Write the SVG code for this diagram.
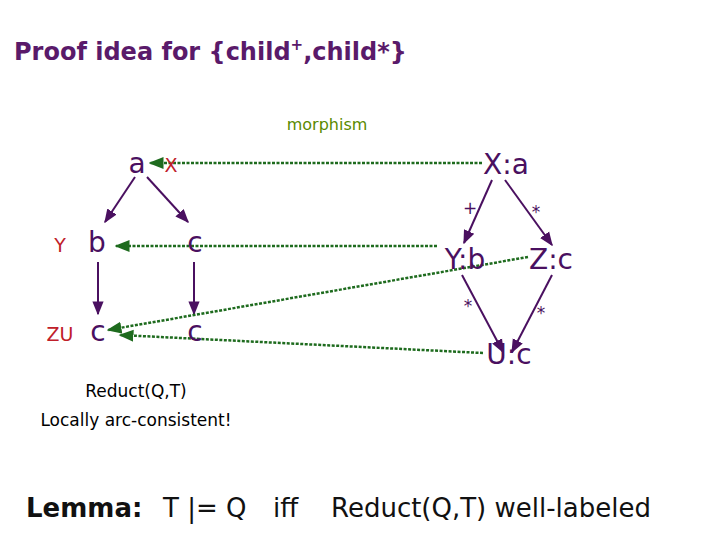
<svg xmlns="http://www.w3.org/2000/svg" width="720" height="540" viewBox="0 0 720 540">
<defs>
<marker id="ap" viewBox="0 0 10 10" refX="9" refY="5" markerWidth="7" markerHeight="7" orient="auto"><path d="M0,1 L10,5 L0,9 z" fill="#4a1060"/></marker>
<marker id="ag" viewBox="0 0 10 10" refX="9" refY="5" markerWidth="6" markerHeight="6" orient="auto"><path d="M0,1 L10,5 L0,9 z" fill="#1e6b1e"/></marker>
</defs>
<style>
text{font-family:"DejaVu Sans",Verdana,sans-serif}
.n{fill:#4a1060;font-size:28px}
.r{fill:#c0202a;font-size:19px}
.s{fill:#4a1060;font-size:17px}
.e{stroke:#4a1060;stroke-width:2;fill:none;marker-end:url(#ap)}
.m{stroke:#1e6b1e;stroke-width:2.5;stroke-dasharray:3,1.5;fill:none;marker-end:url(#ag)}
.b{fill:#000;font-size:17px}
</style>
<text x="14" y="60" fill="#5a1a6a" font-size="24" font-weight="bold">Proof idea for {child<tspan font-size="15" dy="-10">+</tspan><tspan dy="10">,child*}</tspan></text>
<text x="327" y="130" fill="#5a8a00" font-size="16" text-anchor="middle">morphism</text>
<g id="connectors">
<line class="e" x1="135" y1="177" x2="105" y2="222"/>
<line class="e" x1="147" y1="177" x2="188" y2="222"/>
<line class="e" x1="98" y1="262" x2="98" y2="314"/>
<line class="e" x1="194" y1="262" x2="194" y2="314"/>
<line class="e" x1="492" y1="180" x2="464" y2="243"/>
<line class="e" x1="505" y1="180" x2="552" y2="245"/>
<line class="e" x1="462" y1="275" x2="503" y2="352"/>
<line class="e" x1="552" y1="275" x2="512" y2="352"/>
<line class="m" x1="482" y1="163" x2="150" y2="163"/>
<line class="m" x1="437" y1="246" x2="116" y2="246"/>
<line class="m" x1="528" y1="257" x2="108" y2="330"/>
<line class="m" x1="483" y1="353" x2="120" y2="335"/>
</g>
<g id="n_a"><text class="n" x="137" y="173" text-anchor="middle">a</text></g>
<g id="n_b"><text class="n" x="97" y="252" text-anchor="middle">b</text></g>
<g id="n_c1"><text class="n" x="195" y="252" text-anchor="middle">c</text></g>
<g id="n_c2"><text class="n" x="98" y="341" text-anchor="middle">c</text></g>
<g id="n_c3"><text class="n" x="195" y="341" text-anchor="middle">c</text></g>
<text class="r" x="171" y="172" text-anchor="middle">X</text>
<text class="r" x="60" y="252" text-anchor="middle">Y</text>
<text class="r" x="60" y="341" text-anchor="middle">ZU</text>
<g id="n_Xa"><text class="n" x="506" y="174" text-anchor="middle">X:a</text></g>
<g id="n_Yb"><text class="n" x="465" y="269" text-anchor="middle">Y:b</text></g>
<g id="n_Zc"><text class="n" x="551" y="269" text-anchor="middle">Z:c</text></g>
<g id="n_Uc"><text class="n" x="509" y="364" text-anchor="middle">U:c</text></g>
<text class="s" x="470" y="214" text-anchor="middle">+</text>
<text class="s" x="536" y="218" text-anchor="middle">*</text>
<text class="s" x="468" y="312" text-anchor="middle">*</text>
<text class="s" x="541" y="319" text-anchor="middle">*</text>
<text class="b" x="136" y="397" text-anchor="middle">Reduct(Q,T)</text>
<text class="b" x="136" y="426" text-anchor="middle">Locally arc-consistent!</text>
<text x="26" y="517" font-size="26" fill="#111"><tspan font-weight="bold">Lemma:</tspan></text>
<text x="163" y="517" font-size="26" fill="#111">T |= Q</text>
<text x="273" y="517" font-size="26" fill="#111">iff</text>
<text x="331" y="517" font-size="26" fill="#111">Reduct(Q,T) well-labeled</text>
</svg>
